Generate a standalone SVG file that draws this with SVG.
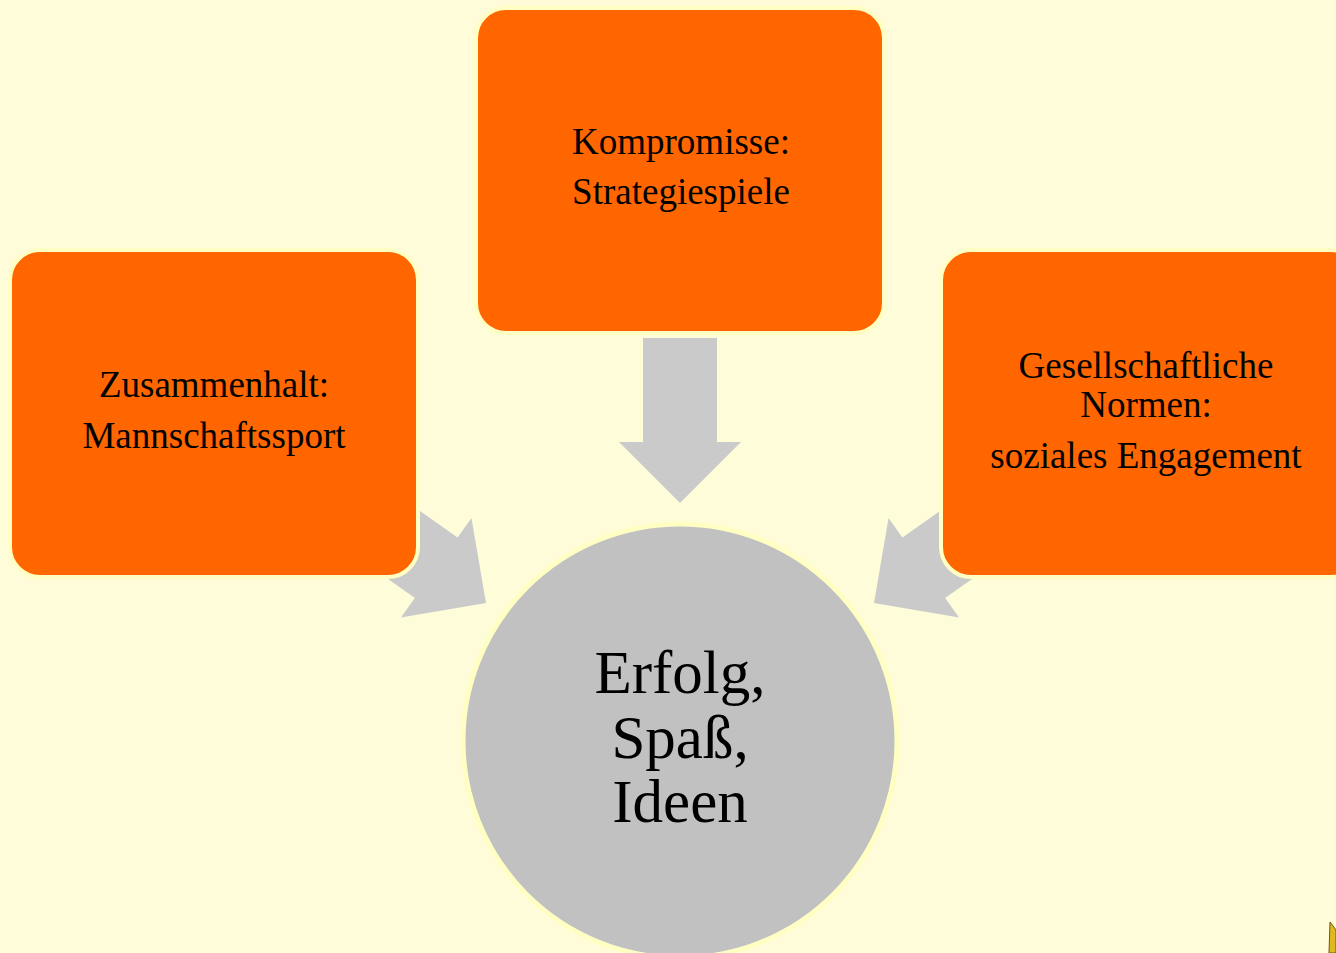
<svg xmlns="http://www.w3.org/2000/svg" width="1336" height="953" viewBox="0 0 1336 953">
  <style>
    .box { fill: #FF6600; stroke: #FFFFC4; stroke-width: 4; }
    .arrow { fill: #CACACA; }
    .lbl { font-family: "Liberation Serif", "Times New Roman", serif; font-size: 37px; fill: #000; text-anchor: middle; }
    .big { font-family: "Liberation Serif", "Times New Roman", serif; font-size: 61px; fill: #000; text-anchor: middle; }
  </style>
  <defs>
    <polygon id="arr" points="-37,-165 37,-165 37,-61 61,-61 0,0 -61,-61 -37,-61"/>
  </defs>
  <rect x="0" y="0" width="1336" height="953" fill="#FFFDD9"/>
  <g id="connectors">
    <use href="#arr" class="arrow" transform="translate(680,503)"/>
    <use href="#arr" class="arrow" transform="translate(486,603) rotate(-54.7)"/>
    <use href="#arr" class="arrow" transform="translate(874,603) rotate(54.7)"/>
  </g>
  <g id="node-zusammenhalt">
    <rect class="box" x="10" y="250" width="408" height="327" rx="30"/>
    <text class="lbl" x="214" y="397">Zusammenhalt:</text>
    <text class="lbl" x="214" y="448">Mannschaftssport</text>
  </g>
  <g id="node-kompromisse">
    <rect class="box" x="476" y="8" width="408" height="325" rx="30"/>
    <text class="lbl" x="681" y="154">Kompromisse:</text>
    <text class="lbl" x="681" y="204">Strategiespiele</text>
  </g>
  <g id="node-normen">
    <rect class="box" x="941" y="250" width="420" height="327" rx="30"/>
    <text class="lbl" x="1146" y="378">Gesellschaftliche</text>
    <text class="lbl" x="1146" y="417">Normen:</text>
    <text class="lbl" x="1146" y="468">soziales Engagement</text>
  </g>
  <g id="node-center">
    <circle cx="680" cy="741" r="217" fill="#C1C1C1" stroke="#FFFFC4" stroke-width="5"/>
    <text class="big" x="680" y="693">Erfolg,</text>
    <text class="big" x="680" y="758">Spaß,</text>
    <text class="big" x="680" y="822">Ideen</text>
  </g>
  <g id="logo">
    <polygon points="1330,922 1333,926 1336,930 1336,953 1329,953" fill="#E0B820" stroke="#6A5A10" stroke-width="1"/>
  </g>
</svg>
